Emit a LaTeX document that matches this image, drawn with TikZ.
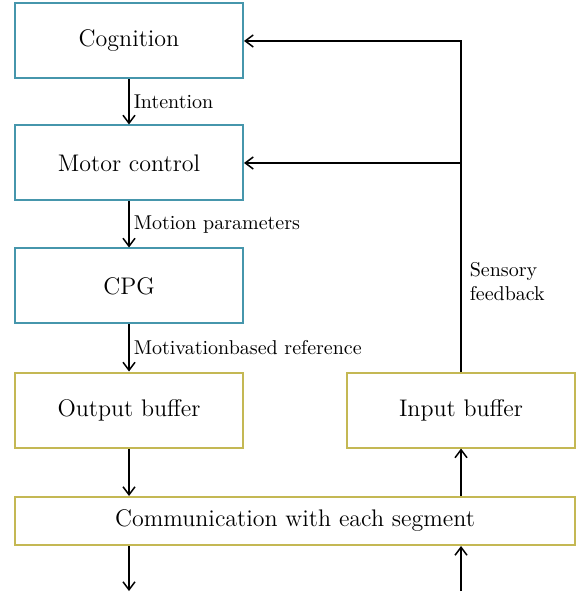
\documentclass[tikz,border=0pt]{standalone}
\usetikzlibrary{arrows.meta}

\definecolor{tealframe}{RGB}{70,150,172}
\definecolor{oliveframe}{RGB}{196,184,84}

\begin{document}
\begin{tikzpicture}[x=0.5pt, y=-0.5pt,
        ctrlbox/.style={
            draw=tealframe,
            line width=1pt,
            minimum width=114pt,
            minimum height=37.5pt,
            font=\large
        },
        bufbox/.style={
            ctrlbox,
            draw=oliveframe
        },
        flow/.style={-{Straight Barb[length=4pt,width=6pt]}, line width=0.75pt},
        lbl/.style={right, inner sep=2pt, font=\normalsize}
    ]
        \useasboundingbox (0,0) rectangle (584,597);

        % Control chain
        \node[ctrlbox] (cog) at (129,41) {Cognition};
        \node[ctrlbox] (motor) at (129,163) {Motor control};
        \node[ctrlbox] (cpg) at (129,286) {CPG};

        % Buffers and communication
        \node[bufbox] (outbuf) at (129,410) {Output buffer};
        \node[bufbox] (inbuf) at (461,410) {Input buffer};
        \node[bufbox, minimum width=280pt, minimum height=24pt] (comm) at (295,521)
            {Communication with each segment};

        \coordinate (outend) at (129,591);
        \coordinate (instart) at (461,591);
        \coordinate (fb) at (inbuf.north |- motor.east);

        % Downward flow
        \draw[flow] (cog) -- node[lbl] {Intention} (motor);
        \draw[flow] (motor) -- node[lbl] {Motion parameters} (cpg);
        \draw[flow] (cpg) -- node[lbl] {Motivationbased reference} (outbuf);
        \draw[flow] (outbuf) -- (outbuf |- comm.north);
        \draw[flow] (outbuf |- comm.south) -- (outend);

        % Upward flow and feedback
        \draw[flow] (instart) -- (instart |- comm.south);
        \draw[flow] (inbuf |- comm.north) -- (inbuf);
        \draw[line width=0.75pt] (inbuf.north) -- node[pos=0.43, right, align=left, inner sep=4pt] {Sensory\\feedback} (fb);
        \draw[flow] (fb) |- (cog.east);
        \draw[flow] (fb) -- (motor.east);
    \end{tikzpicture}
\end{document}
